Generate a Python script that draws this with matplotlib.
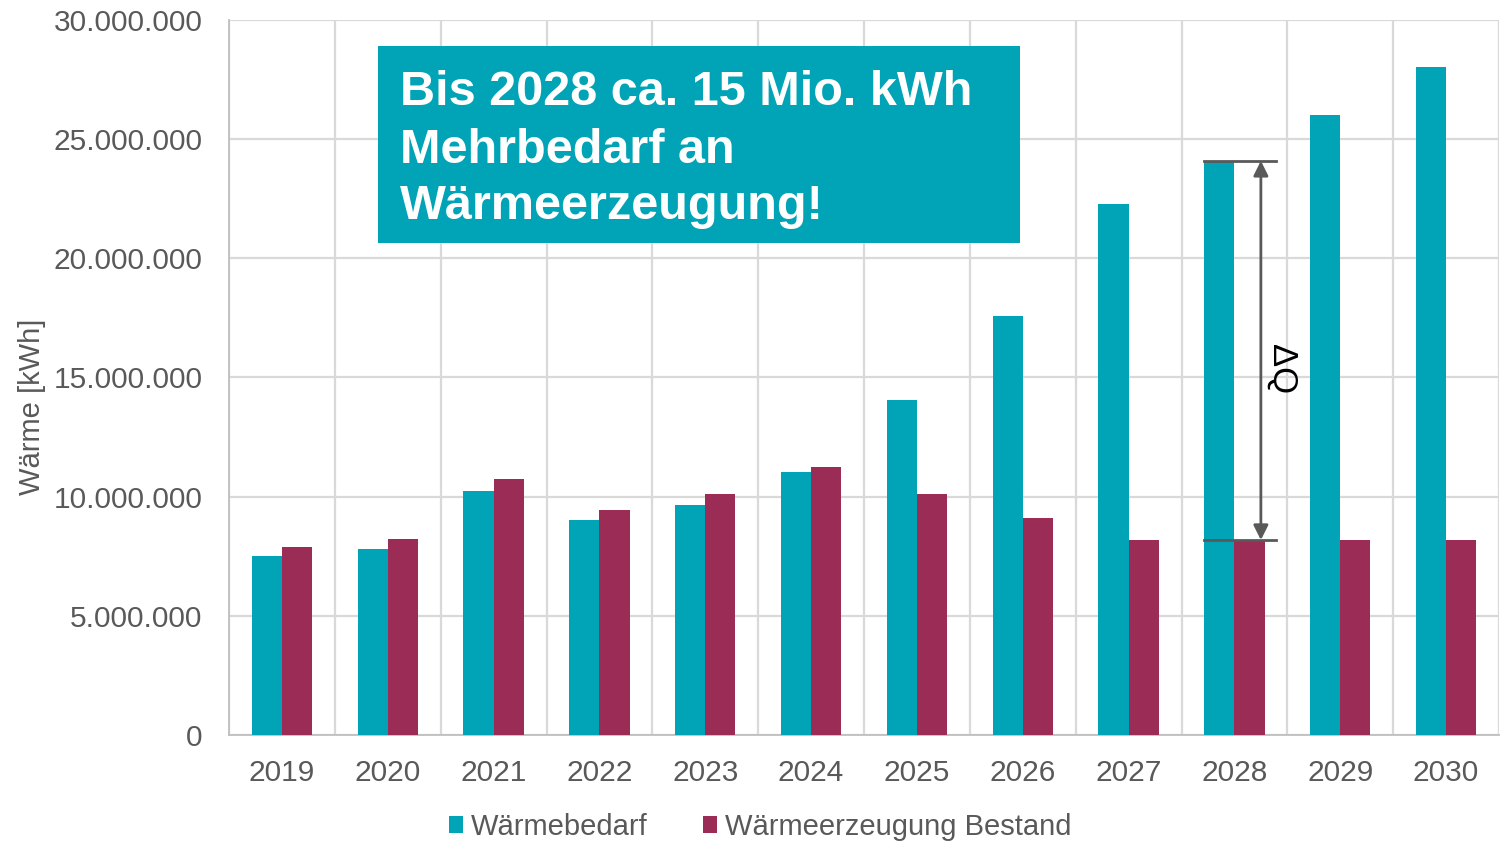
import matplotlib
matplotlib.use("Agg")
import matplotlib.pyplot as plt
import numpy as np
from matplotlib.ticker import FuncFormatter, MultipleLocator, FixedLocator
from matplotlib.patches import Rectangle

years = ["2019", "2020", "2021", "2022", "2023", "2024", "2025", "2026", "2027", "2028", "2029", "2030"]
waermebedarf = [7.51e6, 7.82e6, 10.24e6, 9.02e6, 9.65e6, 11.04e6, 14.06e6, 17.58e6, 22.28e6, 24.09e6, 26.02e6, 28.03e6]
bestand = [7.87e6, 8.22e6, 10.74e6, 9.46e6, 10.13e6, 11.25e6, 10.13e6, 9.12e6, 8.18e6, 8.18e6, 8.18e6, 8.18e6]
series_names = ["Wärmebedarf", "Wärmeerzeugung Bestand"]
box_lines = ["Bis 2028 ca. 15 Mio. kWh", "Mehrbedarf an", "Wärmeerzeugung!"]

TEAL = "#00A4B6"
MAROON = "#9A2C56"
GRAY = "#595959"
GRID = "#D9D9D9"

plt.rcParams["font.family"] = ["Liberation Sans", "DejaVu Sans"]

fig = plt.figure(figsize=(15.08, 8.43), dpi=100)
ax = fig.add_axes([229/1508, 1-735/843, (1499-229)/1508, (735-20)/843])

x = np.arange(len(years))
w = 0.285
ax.bar(x - w/2, waermebedarf, w, color=TEAL, label=series_names[0], zorder=3)
ax.bar(x + w/2, bestand, w, color=MAROON, label=series_names[1], zorder=3)

ax.set_xlim(-0.5, len(years) - 0.5)
ax.set_ylim(0, 30e6)
ax.yaxis.set_major_locator(MultipleLocator(5e6))
ax.yaxis.set_major_formatter(FuncFormatter(lambda v, p: f"{int(v):,}".replace(",", ".")))
ax.set_xticks(x)
ax.set_xticklabels(years)
ax.xaxis.set_minor_locator(FixedLocator(np.arange(-0.5, len(years), 1.0)))

ax.grid(axis="y", which="major", color=GRID, lw=1.6, zorder=0)
ax.grid(axis="x", which="minor", color=GRID, lw=1.6, zorder=0)
ax.tick_params(axis="both", which="both", length=0, labelsize=21.5, labelcolor=GRAY)
ax.tick_params(axis="x", pad=17)
ax.tick_params(axis="y", pad=19)
for s in ["top", "right"]:
    ax.spines[s].set_visible(False)
for s in ["left", "bottom"]:
    ax.spines[s].set_color("#BFBFBF")
    ax.spines[s].set_linewidth(1.3)

ax.set_ylabel("Wärme [kWh]", fontsize=21, color=GRAY)
ax.yaxis.set_label_coords(-0.144, 0.459)

# Delta Q annotation at 2028
i = years.index("2028")
xl0 = i - w
xl1 = i + 0.39
ax.plot([xl0, xl1], [waermebedarf[i]]*2, color=GRAY, lw=2, zorder=4)
ax.plot([xl0, xl1], [bestand[i]]*2, color=GRAY, lw=2, zorder=4)
xa = i + 0.25
ax.annotate("", xy=(xa, waermebedarf[i]), xytext=(xa, bestand[i]),
            arrowprops=dict(arrowstyle="<|-|>", color=GRAY, lw=2, mutation_scale=22,
                            shrinkA=0, shrinkB=0), zorder=5)
ax.text(xa + 0.2, (waermebedarf[i] + bestand[i]) / 2 - 0.8e6, "ΔQ", rotation=-90,
        fontsize=25, color="black", ha="center", va="center", zorder=5)

# Highlight box
ax.add_patch(Rectangle((0.1173, 0.688), 0.6228 - 0.1173, 0.9636 - 0.688,
                       transform=ax.transAxes, facecolor=TEAL, edgecolor="none", zorder=6))
for line, yb in zip(box_lines, [0.881, 0.800, 0.7217]):
    ax.text(0.1346, yb, line, transform=ax.transAxes, ha="left", va="baseline",
            fontsize=35, fontweight="bold", color="white", zorder=7)

leg = fig.legend(loc="center", bbox_to_anchor=(760/1508, 1-827/843), ncol=2, frameon=False,
                 fontsize=21, handlelength=0.5, handleheight=0.5, handletextpad=0.25,
                 columnspacing=1.9, labelcolor=GRAY)

fig.savefig("out.png", dpi=100)
